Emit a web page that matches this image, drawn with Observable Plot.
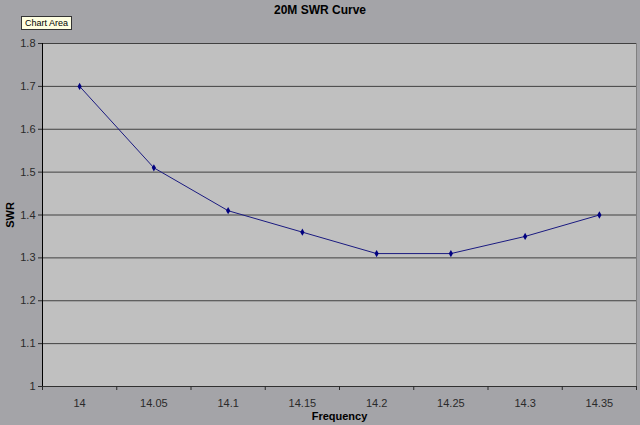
<!DOCTYPE html>
<html>
<head>
<meta charset="utf-8">
<script src="https://cdn.jsdelivr.net/npm/d3@7"></script>
<script src="https://cdn.jsdelivr.net/npm/@observablehq/plot@0.6"></script>
<style>
  html, body { margin: 0; padding: 0; background: #a4a4a8; }
  #wrap { position: relative; width: 640px; height: 425px; overflow: hidden; font-family: "Liberation Sans", Arial, sans-serif; }
  #title { position: absolute; left: 0; width: 640px; top: 3px; text-align: center; font-weight: bold; font-size: 12px; color: #000; z-index: 2; }
  #tip { position: absolute; left: 21px; top: 16px; padding: 1px 3px; background: #ffffe1; border: 1px solid #333; font-size: 9px; color: #000; z-index: 2; }
  svg { display: block; }
  g[aria-label="x-axis label"] text, g[aria-label="y-axis label"] text { font-weight: bold; fill: #000; }
</style>
</head>
<body>
<div id="wrap">
  <div id="title">20M SWR Curve</div>
  <div id="tip">Chart Area</div>
</div>
<script>
const frequencies = ["14", "14.05", "14.1", "14.15", "14.2", "14.25", "14.3", "14.35"];
const swrValues = [1.70, 1.51, 1.41, 1.36, 1.31, 1.31, 1.35, 1.40];
const yTicks = [1, 1.1, 1.2, 1.3, 1.4, 1.5, 1.6, 1.7, 1.8];
const titleText = "20M SWR Curve";
const xLabel = "Frequency";
const yLabel = "SWR";

const data = frequencies.map((f, i) => ({i, f, swr: swrValues[i]}));
const n = frequencies.length;
const centers = d3.range(n);
const boundaries = d3.range(n + 1).map(i => i - 0.5);

const chart = Plot.plot({
  width: 640,
  height: 425,
  marginLeft: 42,
  marginRight: 4,
  marginTop: 43,
  marginBottom: 39,
  style: {background: "transparent", fontFamily: "Liberation Sans, Arial, sans-serif", fontSize: "11px", color: "#2a2a2a"},
  x: {type: "linear", domain: [-0.5, n - 0.5]},
  y: {domain: [1, 1.8]},
  marks: [
    Plot.frame({fill: "#c0c0c0", stroke: "#808080"}),
    Plot.ruleY(yTicks, {stroke: "#404040", strokeWidth: 1}),
    Plot.ruleX([-0.5], {stroke: "#000"}),
    Plot.ruleY([1], {stroke: "#303030"}),
    Plot.axisY({ticks: yTicks, tickSize: 4, tickPadding: 3, tickFormat: d => String(+d.toFixed(1)), label: yLabel, labelAnchor: "center", labelArrow: "none", labelOffset: 36}),
    Plot.axisX({ticks: boundaries, tickSize: 4, tickFormat: () => "", label: null}),
    Plot.axisX({ticks: centers, tickSize: 0, tickPadding: 13, tickFormat: i => frequencies[i], label: xLabel, labelAnchor: "center", labelArrow: "none", labelOffset: 33}),
    Plot.line(data, {x: "i", y: "swr", stroke: "#1a1a80", strokeWidth: 1}),
    Plot.dot(data, {x: "i", y: "swr", symbol: "diamond", r: 2.2, fill: "#000080", stroke: "none"})
  ]
});
document.getElementById("wrap").appendChild(chart);
</script>
</body>
</html>
